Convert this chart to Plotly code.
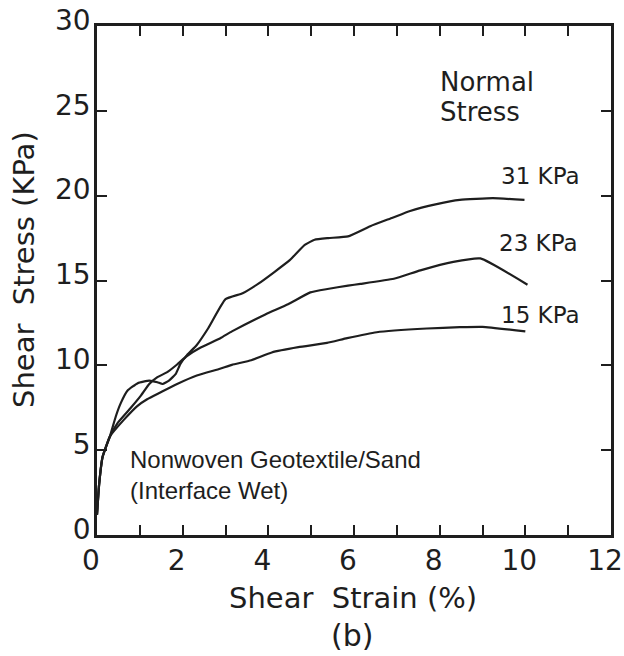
import plotly.graph_objects as go

# ---- data ----
strain_31 = [0, 0.05, 0.13, 0.3, 0.44, 0.56, 0.71, 0.95, 1.22, 1.41, 1.53, 1.68, 1.84, 1.95,
             2.1, 2.33, 2.6, 3.0, 3.4, 3.76, 4.14, 4.5, 4.85, 5.08, 5.4, 5.86, 6.38, 6.9,
             7.31, 7.93, 8.47, 9.24, 9.98]
stress_31 = [1.2, 3.0, 4.6, 5.8, 7.0, 7.8, 8.5, 8.95, 9.1, 9.0, 8.9, 9.1, 9.5, 10.1,
             10.6, 11.2, 12.2, 13.9, 14.25, 14.8, 15.5, 16.2, 17.1, 17.4, 17.5, 17.6, 18.2, 18.7,
             19.1, 19.5, 19.75, 19.85, 19.75]

strain_23 = [0, 0.05, 0.13, 0.3, 0.48, 0.79, 1.02, 1.22, 1.41, 1.64, 1.87, 2.1, 2.42, 2.88,
             3.15, 3.93, 4.46, 4.98, 5.38, 5.86, 6.15, 6.93, 7.55, 8.32, 8.95, 10.05]
stress_23 = [1.2, 3.0, 4.6, 5.8, 6.6, 7.5, 8.2, 8.9, 9.3, 9.6, 10.05, 10.55, 11.05, 11.6,
             12.0, 13.0, 13.6, 14.3, 14.5, 14.7, 14.8, 15.1, 15.6, 16.1, 16.3, 14.75]

strain_15 = [0, 0.05, 0.13, 0.3, 0.63, 0.94, 1.17, 1.48, 1.87, 2.33, 2.87, 3.15, 3.6, 4.08,
             4.7, 5.37, 5.84, 6.53, 7.7, 8.47, 9.0, 10.0]
stress_15 = [1.2, 3.0, 4.6, 5.8, 6.8, 7.6, 8.0, 8.4, 8.9, 9.4, 9.8, 10.03, 10.3, 10.76,
             11.07, 11.32, 11.6, 11.95, 12.17, 12.25, 12.27, 12.0]

series_labels = ["31 KPa", "23 KPa", "15 KPa"]

x_tick_vals = list(range(0, 13))
x_tick_text = ["0", "", "2", "", "4", "", "6", "", "8", "", "10", "", "12"]
y_tick_vals = [0, 5, 10, 15, 20, 25, 30]
y_tick_text = ["0", "5", "10", "15", "20", "25", "30"]

INK = "#1e1e1e"
FONT = "DejaVu Sans"

fig = go.Figure()
for xs, ys, name in [(strain_31, stress_31, series_labels[0]),
                     (strain_23, stress_23, series_labels[1]),
                     (strain_15, stress_15, series_labels[2])]:
    fig.add_trace(go.Scatter(x=xs, y=ys, mode="lines", name=name,
                             line=dict(color=INK, width=2.2, shape="spline", smoothing=0.4),
                             showlegend=False, hoverinfo="skip"))

axis_common = dict(
    ticks="inside", ticklen=10, tickwidth=2, tickcolor=INK,
    showline=True, linewidth=2.5, linecolor=INK, mirror="ticks",
    showgrid=False, zeroline=False, automargin=False,
    tickfont=dict(family=FONT, size=28, color=INK),
)

L, R, T, B = 97, 611, 26, 535
fig.update_layout(
    width=624, height=656,
    margin=dict(l=L, r=624 - R, t=T, b=656 - B),
    paper_bgcolor="white", plot_bgcolor="white",
    xaxis=dict(range=[0, 12], tickvals=x_tick_vals, ticktext=x_tick_text,
               ticklabeloverflow="allow", ticklabelstandoff=-1, ticklabelshift=-6,
               **axis_common),
    yaxis=dict(range=[0, 30], tickvals=y_tick_vals, ticktext=y_tick_text,
               ticklabelstandoff=-2, ticklabelshift=-6, **axis_common),
)

W, H = R - L, B - T
def px(x):
    return (x - L) / W
def py(y):
    return (B - y) / H

ann = []
def add(text, x, y, size, xanchor="left", family=FONT, textangle=0, align="left"):
    ann.append(dict(text=text, x=x, y=y, xref="paper", yref="paper",
                    xanchor=xanchor, yanchor="middle", showarrow=False,
                    textangle=textangle, align=align,
                    font=dict(family=family, size=size, color=INK)))

add("Normal", px(438), py(82), 26)
add("Stress", px(438), py(112), 26)
add(series_labels[0], px(499), py(176), 23)
add(series_labels[1], px(497), py(243), 23)
add(series_labels[2], px(499), py(315), 23)
add("Nonwoven Geotextile/Sand<br>(Interface Wet)", px(128), py(475), 24,
    family="Liberation Sans")
add("Shear  Strain (%)", px(353), py(598), 29, xanchor="center", align="center")
add("(b)", px(352), py(635), 30, xanchor="center", align="center")
add("Shear  Stress (KPa)", px(24), py(270), 29, xanchor="center", textangle=-90,
    align="center")
fig.update_layout(annotations=ann)

fig.write_html("out.html")
